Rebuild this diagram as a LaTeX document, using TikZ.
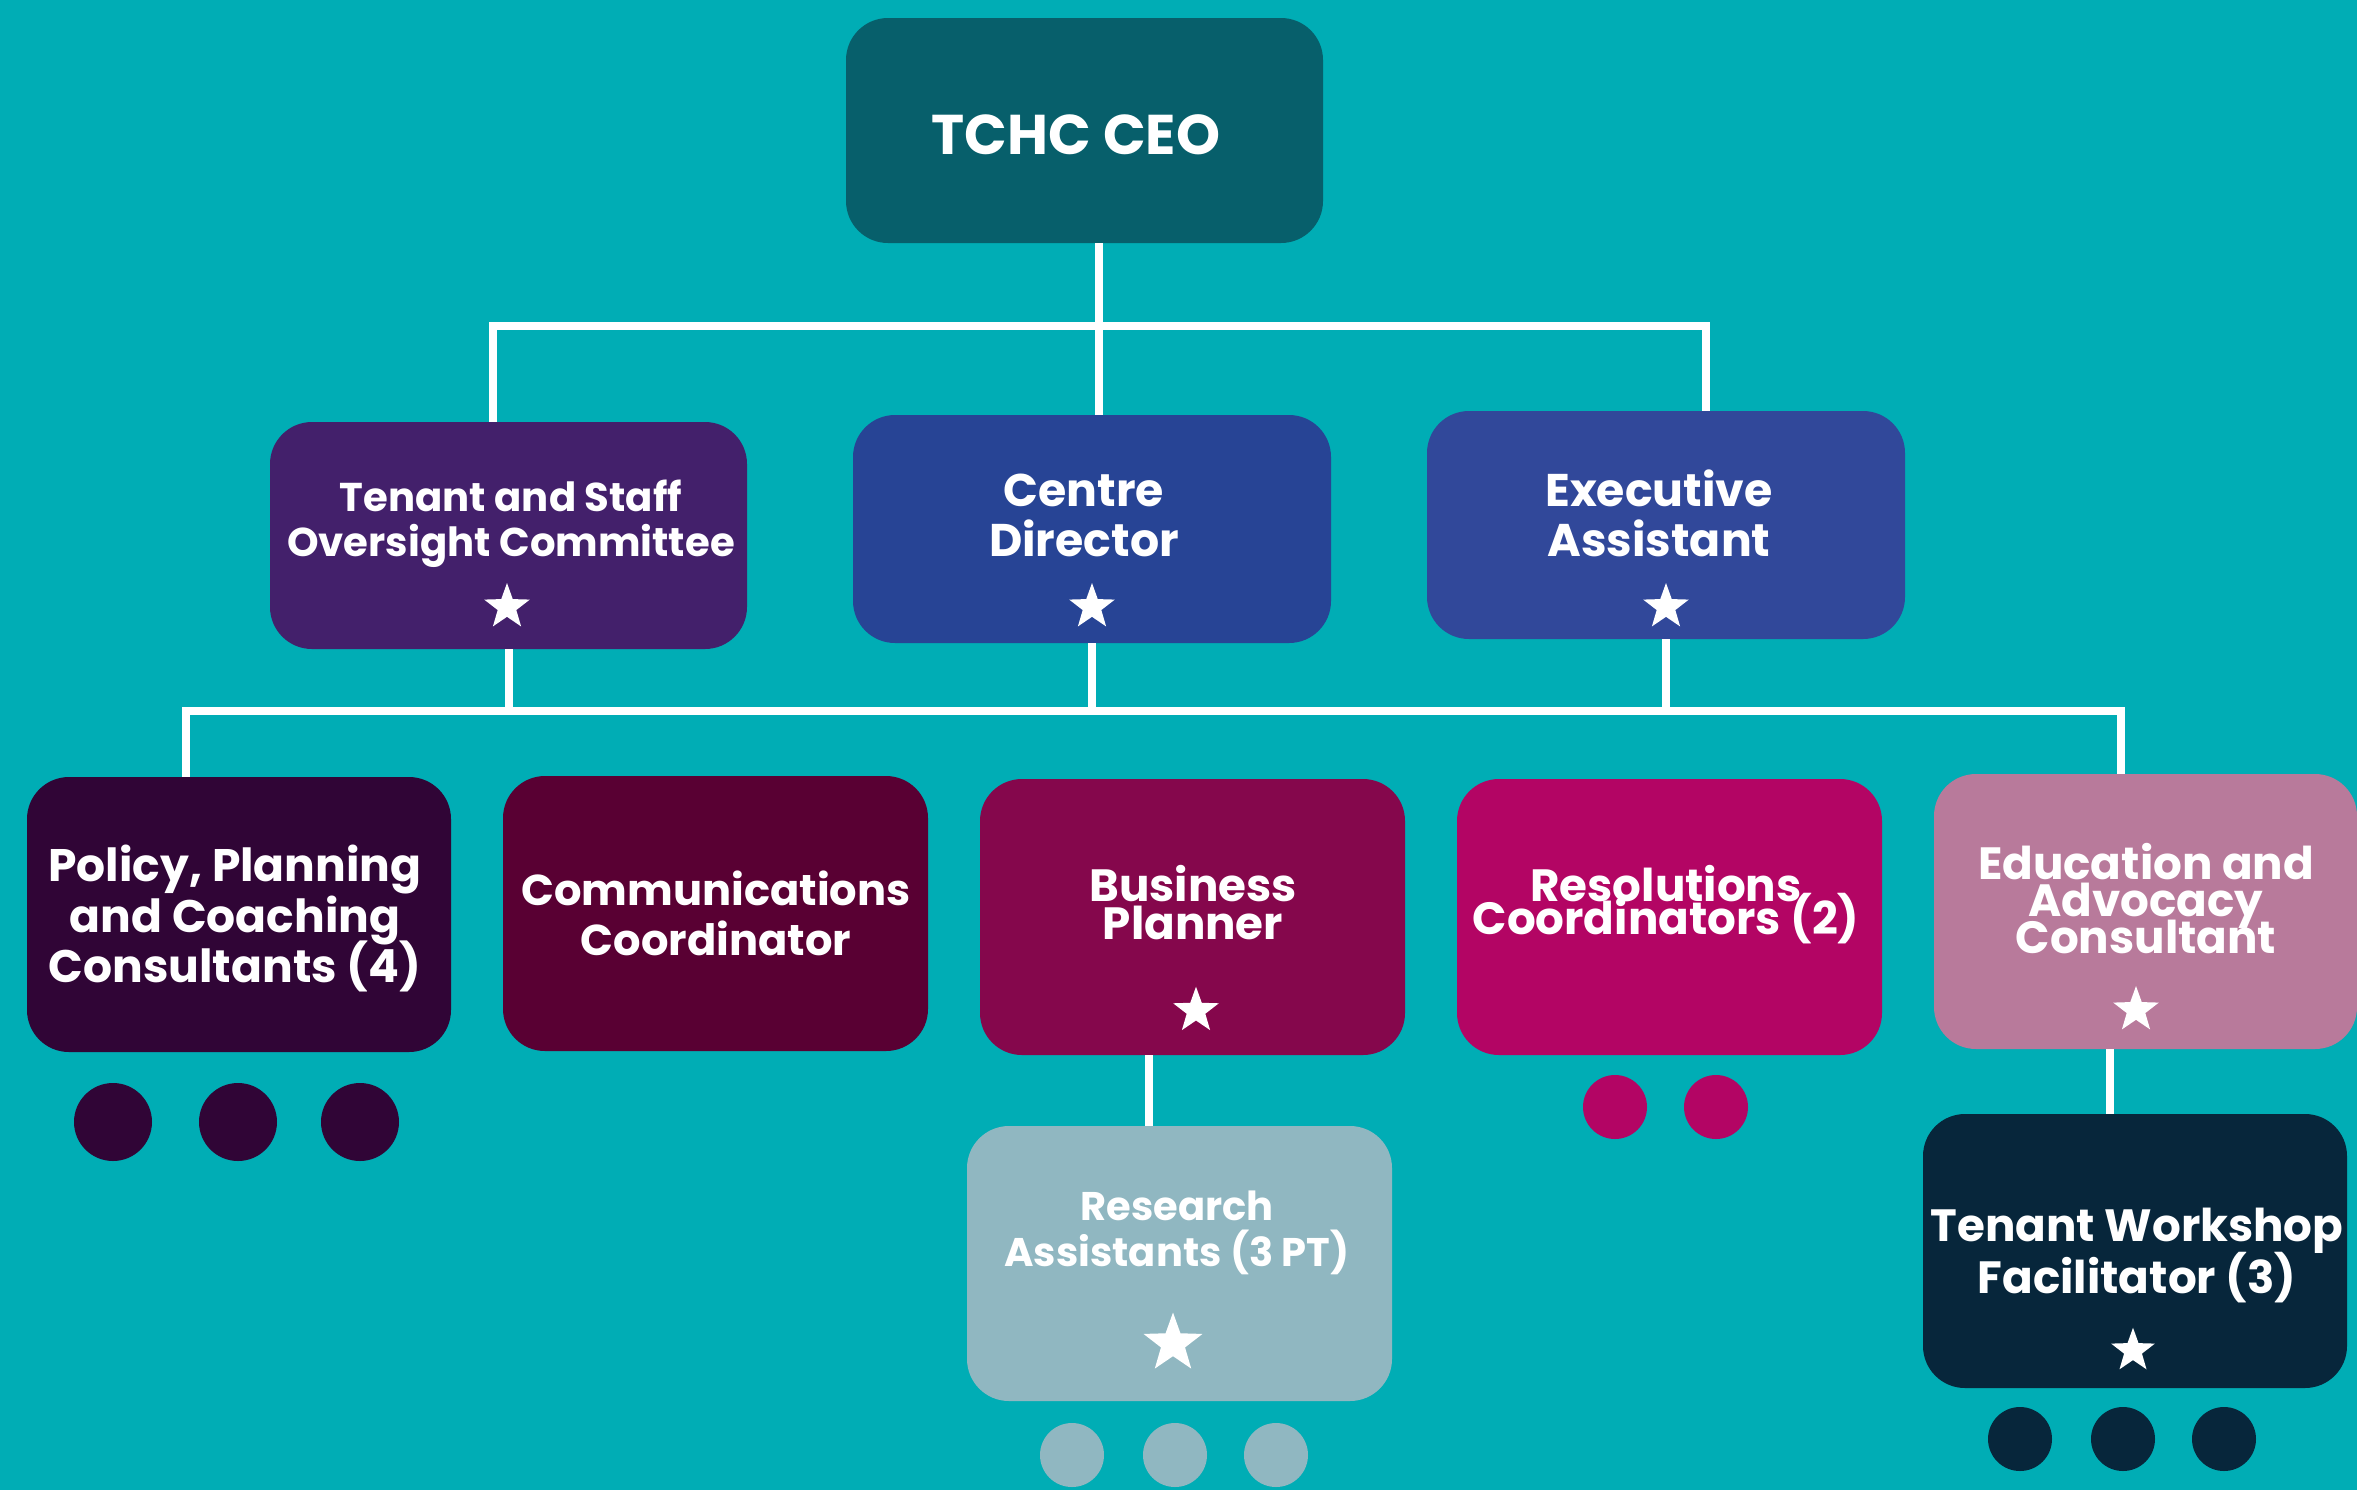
\documentclass[tikz,border=0pt]{standalone}
\usepackage{fontspec}
\setmainfont{Poppins}
\usetikzlibrary{shapes.geometric}
\definecolor{bgteal}{HTML}{00ADB5}
\definecolor{cceo}{HTML}{075F6B}
\definecolor{ctsc}{HTML}{43206B}
\definecolor{ccd}{HTML}{274495}
\definecolor{cea}{HTML}{31489A}
\definecolor{cppc}{HTML}{300536}
\definecolor{ccc}{HTML}{590033}
\definecolor{cbp}{HTML}{85074C}
\definecolor{crc}{HTML}{B30564}
\definecolor{ceac}{HTML}{B87A9B}
\definecolor{cra}{HTML}{90B7C1}
\definecolor{ctwf}{HTML}{07263B}
\tikzset{
  box/.style={rectangle, rounded corners=21pt, inner sep=0pt, draw=none},
  lbl/.style={anchor=base, inner sep=0pt, text=white, font=\bfseries},
  conn/.style={draw=white, line width=4pt, line cap=butt, line join=miter},
  starmark/.style={star, star points=5, star point ratio=2.45, fill=white, inner sep=0pt, draw=none},
  dot/.style={circle, inner sep=0pt, draw=none},
  fA/.style={font=\fontsize{28}{34}\selectfont\bfseries},
  fB/.style={font=\fontsize{20.1}{24}\selectfont\bfseries},
  fC/.style={font=\fontsize{22.9}{27}\selectfont\bfseries},
  fD/.style={font=\fontsize{22.8}{27}\selectfont\bfseries},
  fE/.style={font=\fontsize{21.6}{26}\selectfont\bfseries},
  fF/.style={font=\fontsize{22.6}{26}\selectfont\bfseries},
  fG/.style={font=\fontsize{20}{24}\selectfont\bfseries},
  fH/.style={font=\fontsize{22.6}{27}\selectfont\bfseries},
}
\begin{document}
\begin{tikzpicture}[x=0.5pt,y=-0.5pt]
\useasboundingbox (0,0) rectangle (2357,1490);
\fill[bgteal] (0,0) rectangle (2357,1490);

% boxes
\node[box, fill=cceo, minimum width=238.5pt, minimum height=112.5pt] (ceo) at (1084.5,130.5) {};
\node[box, fill=ctsc, minimum width=238.5pt, minimum height=113.5pt] (tsc) at (508.5,535.5) {};
\node[box, fill=ccd, minimum width=239pt, minimum height=114pt] (cd) at (1092,529) {};
\node[box, fill=cea, minimum width=239pt, minimum height=114pt] (ea) at (1666,525) {};
\node[box, fill=cppc, minimum width=212pt, minimum height=137.5pt] (ppc) at (239,914.5) {};
\node[box, fill=ccc, minimum width=212.5pt, minimum height=137.5pt] (cc) at (715.5,913.5) {};
\node[box, fill=cbp, minimum width=212.5pt, minimum height=138pt] (bp) at (1192.5,917) {};
\node[box, fill=crc, minimum width=212.5pt, minimum height=138pt] (rc) at (1669.5,917) {};
\node[box, fill=ceac, minimum width=211.5pt, minimum height=137.5pt] (eac) at (2145.5,911.5) {};
\node[box, fill=cra, minimum width=212.5pt, minimum height=137.5pt] (ra) at (1179.5,1263.5) {};
\node[box, fill=ctwf, minimum width=212pt, minimum height=137pt] (twf) at (2135,1251) {};

% connectors
\coordinate (busTop) at (1099,326);
\coordinate (busLow) at (1092,710.7);
\draw[conn] ([xshift=7.25pt]ceo.south) -- ([xshift=3.5pt]cd.north);
\draw[conn] ([xshift=-7.75pt]tsc.north) |- (busTop) -| ([xshift=20pt]ea.north);
\draw[conn] ([xshift=-26.5pt]ppc.north) |- (busLow) -| ([xshift=-12.4pt]eac.north);
\draw[conn] (tsc.south) -- (tsc.south |- busLow);
\draw[conn] (cd.south) -- (cd.south |- busLow);
\draw[conn] (ea.south) -- (ea.south |- busLow);
\draw[conn] ([xshift=-21.75pt]bp.south) -- ([xshift=-21.75pt]bp.south |- ra.north);
\draw[conn] ([xshift=-17.75pt]eac.south) -- ([xshift=-17.75pt]eac.south |- twf.north);

% texts
\node[lbl, fA] (ceoT) at (1076,154) {TCHC CEO};
\node[lbl, fB] (tsc1) at (511,511.7) {Tenant and Staff};
\node[lbl, fB] (tsc2) at (511,556.7) {Oversight Committee};
\node[lbl, fC] (cd1) at (1084,506) {Centre};
\node[lbl, fC] (cd2) at (1084,556) {Director};
\node[lbl, fC] (ea1) at (1659,506) {Executive};
\node[lbl, fC] (ea2) at (1659,556) {Assistant};
\node[lbl, fD] (ppc1) at (235,881.7) {Policy, Planning};
\node[lbl, fD] (ppc2) at (235,932) {and Coaching};
\node[lbl, fD] (ppc3) at (235,982.7) {Consultants (4)};
\node[lbl, fE] (cc1) at (716,905) {Communications};
\node[lbl, fE] (cc2) at (716,955) {Coordinator};
\node[lbl, fF] (bp1) at (1193,901.7) {Business};
\node[lbl, fF] (bp2) at (1193,939) {Planner};
\node[lbl, fF] (rc1) at (1666,901.7) {Resolutions};
\node[lbl, fF] (rc2) at (1666,934) {Coordinators (2)};
\node[lbl, fF] (eac1) at (2146,879) {Education and};
\node[lbl, fF] (eac2) at (2146,916.7) {Advocacy};
\node[lbl, fF] (eac3) at (2146,953) {Consultant};
\node[lbl, fG] (ra1) at (1177,1220) {Research};
\node[lbl, fG] (ra2) at (1177,1266.7) {Assistants (3 PT)};
\node[lbl, fH] (twf1) at (2137,1241.7) {Tenant Workshop};
\node[lbl, fH] (twf2) at (2137,1293) {Facilitator (3)};

% stars
\node[starmark, minimum size=24pt] (s1) at (507,607) {};
\node[starmark, minimum size=24pt] (s2) at (1092,607) {};
\node[starmark, minimum size=24pt] (s3) at (1666,607) {};
\node[starmark, minimum size=24pt] (s4) at (1196,1010.7) {};
\node[starmark, minimum size=24pt] (s5) at (2136,1010) {};
\node[starmark, minimum size=31pt] (s6) at (1173,1343.5) {};
\node[starmark, minimum size=23pt] (s7) at (2133,1350.7) {};

% dots
\node[dot, fill=cppc, minimum size=39pt] (d1) at (113,1122) {};
\node[dot, fill=cppc, minimum size=39pt] (d2) at (238,1122) {};
\node[dot, fill=cppc, minimum size=39pt] (d3) at (360,1122) {};
\node[dot, fill=crc, minimum size=32pt] (d4) at (1615,1107) {};
\node[dot, fill=crc, minimum size=32pt] (d5) at (1716,1107) {};
\node[dot, fill=cra, minimum size=32pt] (d6) at (1072,1455) {};
\node[dot, fill=cra, minimum size=32pt] (d7) at (1175,1455) {};
\node[dot, fill=cra, minimum size=32pt] (d8) at (1276,1455) {};
\node[dot, fill=ctwf, minimum size=32pt] (d9) at (2020,1439) {};
\node[dot, fill=ctwf, minimum size=32pt] (d10) at (2123,1439) {};
\node[dot, fill=ctwf, minimum size=32pt] (d11) at (2224,1439) {};
\end{tikzpicture}
\end{document}
